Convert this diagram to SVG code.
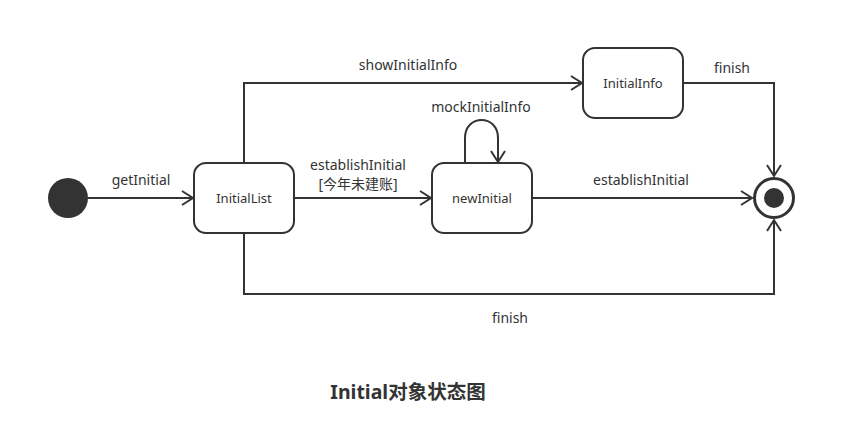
<svg xmlns="http://www.w3.org/2000/svg" width="858" height="442" viewBox="0 0 858 442">
<style>
.st{fill:#fff;stroke:#333;stroke-width:2}
.ln{fill:none;stroke:#333;stroke-width:2}
text{font-family:"Noto Sans","Noto Sans CJK SC",sans-serif;font-size:14px;fill:#333;text-anchor:middle}
.n{font-size:13px}
.t{font-size:19.5px;font-weight:bold}
</style>
<defs>
<marker id="a" markerWidth="16" markerHeight="16" refX="13" refY="8" orient="auto" markerUnits="userSpaceOnUse">
<path d="M2,1 L13,8 L2,15" fill="none" stroke="#333" stroke-width="2"/>
</marker>
</defs>
<rect width="858" height="442" fill="#fff"/>
<g id="connectors">
<path class="ln" d="M88,198 H193" marker-end="url(#a)"/>
<text x="141" y="185">getInitial</text>
<path class="ln" d="M244,163 V83 H582" marker-end="url(#a)"/>
<text x="408" y="70">showInitialInfo</text>
<path class="ln" d="M294,198 H431" marker-end="url(#a)"/>
<text x="358" y="170">establishInitial</text>
<text x="358" y="189">[今年未建账]</text>
<path class="ln" d="M465,163 V138 C465,114 498,114 498,138 V162" marker-end="url(#a)"/>
<text x="481" y="112">mockInitialInfo</text>
<path class="ln" d="M532,198 H752" marker-end="url(#a)"/>
<text x="641" y="185">establishInitial</text>
<path class="ln" d="M683,83 H774 V176" marker-end="url(#a)"/>
<text x="732" y="73">finish</text>
<path class="ln" d="M244,233 V294 H774 V220" marker-end="url(#a)"/>
<text x="510" y="323">finish</text>
</g>
<g id="start"><circle cx="68" cy="198" r="20" fill="#333"/></g>
<g id="InitialList"><rect class="st" x="194" y="163" width="100" height="70" rx="12"/><text class="n" x="244" y="203">InitialList</text></g>
<g id="newInitial"><rect class="st" x="432" y="163" width="100" height="70" rx="12"/><text class="n" x="482" y="203">newInitial</text></g>
<g id="InitialInfo"><rect class="st" x="583" y="48" width="100" height="70" rx="12"/><text class="n" x="633" y="88">InitialInfo</text></g>
<g id="end"><circle cx="774" cy="198" r="19.5" fill="#fff" stroke="#333" stroke-width="3"/><circle cx="774" cy="198" r="10" fill="#333"/></g>
<text class="t" x="408" y="399">Initial对象状态图</text>
</svg>
